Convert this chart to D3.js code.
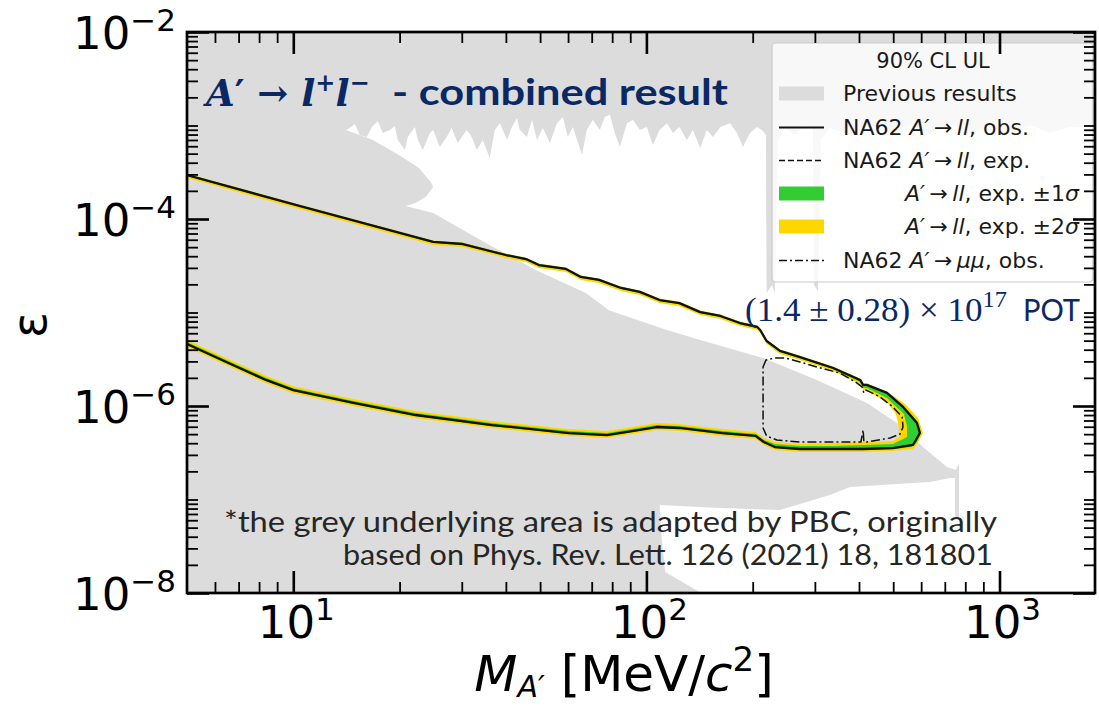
<!DOCTYPE html>
<html><head><meta charset="utf-8">
<script src="https://cdn.jsdelivr.net/npm/d3@7"></script>
<style>html,body{margin:0;padding:0;background:#fff}svg{display:block}</style>
</head><body>
<svg id="chart" width="1099" height="706"></svg>
<script>
// ---------------- DATA ----------------
const xMajorTicks = [10, 100, 1000];
const xTickExponents = ["1", "2", "3"];
const yMajorTicks = [1e-2, 1e-4, 1e-6, 1e-8];
const yTickExponents = ["\u22122", "\u22124", "\u22126", "\u22128"];

// NA62 A'->ll observed limit, upper branch (mass in MeV, epsilon)
const obsUpperMass = [5.0, 10.4, 24.9, 30.2, 40.0, 45.6, 49.6, 59.2, 65.2, 73.4, 84.7, 95.8, 109, 124, 142, 162, 184, 206, 210, 219, 239, 272, 338, 403, 411, 421, 480, 533, 584, 595];
const obsUpperEps  = [2.955e-4, 1.38e-4, 5.68e-5, 5.40e-5, 4.12e-5, 3.73e-5, 3.22e-5, 2.92e-5, 2.40e-5, 2.23e-5, 1.83e-5, 1.66e-5, 1.36e-5, 1.26e-5, 1.01e-5, 9.18e-6, 7.72e-6, 7.00e-6, 6.50e-6, 4.96e-6, 3.88e-6, 3.34e-6, 2.55e-6, 1.90e-6, 1.68e-6, 1.68e-6, 1.38e-6, 9.76e-7, 6.58e-7, 5.14e-7];
// lower branch
const obsLowerMass = [5.0, 6.74, 8.36, 10.0, 14.8, 22.2, 36.5, 60.3, 77.3, 87.5, 107, 124, 164, 204, 215, 231, 272, 338, 411, 499, 569, 595];
const obsLowerEps  = [4.60e-6, 2.74e-6, 1.90e-6, 1.48e-6, 1.08e-6, 8.01e-7, 6.26e-7, 5.14e-7, 4.89e-7, 5.27e-7, 5.96e-7, 5.82e-7, 5.14e-7, 4.78e-7, 4.12e-7, 3.64e-7, 3.47e-7, 3.47e-7, 3.47e-7, 3.55e-7, 3.83e-7, 5.14e-7];

// expected-limit bands: edges along the upper branch (left -> tip) and the lower branch (tip -> left)
const bandUpperMass = [5.0, 10.4, 24.9, 30.2, 40.0, 45.6, 49.6, 59.2, 65.2, 73.4, 84.7, 95.8, 109, 124, 142, 162, 184, 206, 210, 219, 239, 272, 338, 403, 411, 421, 480];
const bandLowerMass = [499, 411, 338, 272, 231, 215, 204, 164, 124, 107, 87.5, 77.3, 60.3, 36.5, 22.2, 14.8, 10.0, 8.36, 6.74, 5.0];
// +-2 sigma (yellow)
const yellowOuterUpper = [3.07e-4, 1.43e-4, 5.89e-5, 5.60e-5, 4.27e-5, 3.87e-5, 3.34e-5, 3.03e-5, 2.49e-5, 2.31e-5, 1.90e-5, 1.72e-5, 1.41e-5, 1.31e-5, 1.05e-5, 9.53e-6, 8.01e-6, 7.26e-6, 6.74e-6, 5.15e-6, 4.03e-6, 3.47e-6, 2.65e-6, 1.97e-6, 1.74e-6, 1.74e-6, 1.43e-6];
const yellowOuterTipMass = [540, 588, 607, 584, 569];
const yellowOuterTipEps  = [1.05e-6, 7.44e-7, 5.14e-7, 3.92e-7, 3.47e-7];
const yellowOuterLower = [3.30e-7, 3.22e-7, 3.22e-7, 3.22e-7, 3.38e-7, 3.83e-7, 4.44e-7, 4.77e-7, 5.41e-7, 5.54e-7, 4.90e-7, 4.54e-7, 4.77e-7, 5.81e-7, 7.44e-7, 1.00e-6, 1.37e-6, 1.76e-6, 2.55e-6, 4.27e-6];
const yellowInnerUpper = [2.74e-4, 1.28e-4, 5.28e-5, 5.02e-5, 3.83e-5, 3.46e-5, 2.99e-5, 2.71e-5, 2.23e-5, 2.07e-5, 1.70e-5, 1.54e-5, 1.26e-5, 1.17e-5, 9.38e-6, 8.53e-6, 7.17e-6, 6.50e-6, 6.04e-6, 4.61e-6, 3.60e-6, 3.10e-6, 2.37e-6, 1.72e-6, 1.49e-6, 1.45e-6, 1.11e-6];
const yellowInnerTipMass = [509, 519, 519];
const yellowInnerTipEps  = [8.21e-7, 5.96e-7, 4.66e-7];
const yellowInnerLower = [4.22e-7, 4.12e-7, 4.02e-7, 3.92e-7, 4.12e-7, 4.55e-7, 5.27e-7, 5.67e-7, 6.42e-7, 6.58e-7, 5.81e-7, 5.40e-7, 5.67e-7, 6.91e-7, 8.84e-7, 1.19e-6, 1.63e-6, 2.10e-6, 3.02e-6, 5.08e-6];
// +-1 sigma (green)
const greenOuterUpper = [3.03e-4, 1.41e-4, 5.82e-5, 5.53e-5, 4.22e-5, 3.82e-5, 3.30e-5, 2.99e-5, 2.46e-5, 2.29e-5, 1.88e-5, 1.70e-5, 1.39e-5, 1.29e-5, 1.04e-5, 9.41e-6, 7.91e-6, 7.17e-6, 6.66e-6, 5.08e-6, 3.98e-6, 3.42e-6, 2.61e-6, 1.95e-6, 1.72e-6, 1.72e-6, 1.41e-6];
const greenOuterTipMass = [536, 584, 599, 584, 562];
const greenOuterTipEps  = [1.00e-6, 6.91e-7, 5.14e-7, 4.12e-7, 3.64e-7];
const greenOuterLower = [3.46e-7, 3.39e-7, 3.39e-7, 3.39e-7, 3.55e-7, 4.02e-7, 4.66e-7, 5.02e-7, 5.68e-7, 5.82e-7, 5.14e-7, 4.77e-7, 5.02e-7, 6.11e-7, 7.82e-7, 1.05e-6, 1.44e-6, 1.85e-6, 2.67e-6, 4.49e-6];
const greenInnerUpper = [2.88e-4, 1.35e-4, 5.54e-5, 5.27e-5, 4.02e-5, 3.64e-5, 3.14e-5, 2.85e-5, 2.34e-5, 2.18e-5, 1.79e-5, 1.62e-5, 1.33e-5, 1.23e-5, 9.85e-6, 8.96e-6, 7.53e-6, 6.83e-6, 6.34e-6, 4.84e-6, 3.79e-6, 3.26e-6, 2.49e-6, 1.81e-6, 1.56e-6, 1.56e-6, 1.22e-6];
const greenInnerTipMass = [536, 547, 547];
const greenInnerTipEps  = [8.21e-7, 6.11e-7, 4.66e-7];
const greenInnerLower = [3.92e-7, 3.83e-7, 3.74e-7, 3.74e-7, 3.92e-7, 4.33e-7, 5.02e-7, 5.40e-7, 6.11e-7, 6.26e-7, 5.54e-7, 5.14e-7, 5.40e-7, 6.58e-7, 8.41e-7, 1.13e-6, 1.55e-6, 2.00e-6, 2.88e-6, 4.83e-6];

// NA62 A'->mumu observed (closed contour)
const mumuMass = [214, 218, 231, 247, 272, 304, 353, 395, 408, 413, 419, 459, 499, 530, 533, 523, 490, 421, 413, 411, 405, 338, 272, 234, 219, 214];
const mumuEps  = [2.61e-6, 3.10e-6, 3.26e-6, 3.26e-6, 2.96e-6, 2.61e-6, 2.25e-6, 1.76e-6, 1.60e-6, 1.38e-6, 1.48e-6, 1.25e-6, 9.76e-7, 7.63e-7, 5.96e-7, 5.02e-7, 4.55e-7, 4.12e-7, 4.12e-7, 5.54e-7, 4.12e-7, 4.12e-7, 4.12e-7, 4.33e-7, 4.78e-7, 5.82e-7];

// Previous results: boundary of the region NOT excluded (the white gap)
const gapMass = [14.45, 14.94, 15.43, 16.15, 16.69, 17.35, 17.93, 18.77, 19.39, 19.77, 20.70, 21.10, 22.09, 22.53, 23.27, 24.36, 24.9, 26.0, 27.2, 28.1, 29.2, 31.0, 32.0, 33.1, 34.4, 36.0, 37.2, 38.5, 40.3, 41.6, 43.0, 43.8, 45.9, 47.4, 49.0, 50.9, 53.3, 55.8, 58.0, 59.9, 61.9, 65.7, 67.8, 70.5, 73.8, 76.3, 78.8, 81.4, 84.1, 88.1, 91.6, 95.8, 100.3, 104.3, 109, 114.3, 118.9, 124, 130.2, 135.4, 142, 148.4, 154.3, 162, 172.4, 180.5, 187.7, 196.5, 205.6, 212.4, 218, 219, 226.8, 231, 235.8, 247, 263.5, 281.2, 296.3, 298.2, 306.1, 312.2, 331, 377, 430, 490, 558, 636, 724, 825, 940, 1071, 1220, 1390, 1584, 3000, 3000, 143, 143, 113, 110.6, 109, 162, 239, 331, 377, 523, 636, 724, 748, 748, 768, 768, 753, 710, 607, 533, 421, 304, 214, 142, 114.3, 82.5, 78.3, 67.4, 48.6, 35.1, 24.9, 20.8, 22.2, 23.7, 24.9, 24.5, 22.7, 19.9, 16.8, 14.1];
const gapEps  = [9.40e-4, 1.04e-3, 7.91e-4, 7.53e-4, 9.64e-4, 1.12e-3, 8.31e-4, 8.95e-4, 9.88e-4, 7.00e-4, 5.47e-4, 7.53e-4, 9.64e-4, 7.00e-4, 5.47e-4, 8.31e-4, 8.95e-4, 5.89e-4, 7.53e-4, 9.40e-4, 6.50e-4, 8.95e-4, 7.53e-4, 5.47e-4, 7.00e-4, 4.49e-4, 8.95e-4, 1.06e-3, 7.00e-4, 9.64e-4, 1.20e-3, 8.95e-4, 7.53e-4, 1.15e-3, 7.00e-4, 9.40e-4, 6.50e-4, 1.06e-3, 1.23e-3, 7.53e-4, 9.64e-4, 4.84e-4, 8.95e-4, 1.15e-3, 8.95e-4, 1.23e-3, 1.30e-3, 8.31e-4, 5.89e-4, 1.06e-3, 1.15e-3, 8.95e-4, 9.64e-4, 6.19e-4, 8.95e-4, 1.06e-3, 8.31e-4, 9.64e-4, 7.00e-4, 8.95e-4, 5.75e-4, 8.95e-4, 7.53e-4, 9.64e-4, 1.06e-3, 8.31e-4, 5.89e-4, 8.31e-4, 9.64e-4, 8.95e-4, 7.91e-4, 1.62e-5, 1.97e-5, 1.62e-5, 7.00e-4, 9.40e-4, 7.91e-4, 1.01e-3, 8.95e-4, 1.97e-5, 1.70e-5, 7.00e-4, 9.40e-4, 7.91e-4, 1.01e-3, 8.52e-4, 9.88e-4, 8.11e-4, 1.04e-3, 8.52e-4, 9.88e-4, 7.91e-4, 1.01e-3, 8.31e-4, 9.64e-4, 8.95e-4, 1e-9, 1e-9, 1.0e-8, 1.68e-8, 3.69e-8, 8.73e-8, 8.11e-8, 7.72e-8, 1.12e-7, 1.36e-7, 1.47e-7, 1.54e-7, 1.70e-7, 1.70e-7, 6.50e-8, 6.50e-8, 2.46e-7, 2.07e-7, 2.23e-7, 3.64e-7, 5.96e-7, 1.08e-6, 1.90e-6, 3.26e-6, 5.08e-6, 6.50e-6, 9.88e-6, 1.06e-5, 1.62e-5, 2.85e-5, 5.54e-5, 1.16e-4, 1.38e-4, 1.48e-4, 1.72e-4, 2.20e-4, 2.49e-4, 3.51e-4, 4.84e-4, 7.00e-4, 8.95e-4];

// ---------------- CHART ----------------
const navy = "#0a2864", grey = "#dcdcdc", green = "#32cd32", gold = "#ffd700";
const P = {l: 187, r: 1095, t: 32, b: 593};
const svg = d3.select("#chart");
const x = d3.scaleLog().domain([5, 1864]).range([P.l, P.r]);
const y = d3.scaleLog().domain([1e-8, 1e-2]).range([P.b, P.t]);
const pts = (ms, es) => ms.map((m, i) => [m, es[i]]);
const line = d3.line().x(d => x(d[0])).y(d => y(d[1]));

svg.append("defs").append("clipPath").attr("id", "clip")
  .append("rect").attr("x", P.l).attr("y", P.t).attr("width", P.r - P.l).attr("height", P.b - P.t);
const g = svg.append("g").attr("clip-path", "url(#clip)");

// grey previous results = plot region minus the gap
const frame = [[1, 1e-10], [1e5, 1e-10], [1e5, 1], [1, 1]];
g.append("path")
  .attr("d", line(frame) + "Z" + line(pts(gapMass, gapEps)) + "Z")
  .attr("fill-rule", "evenodd").attr("fill", grey);

// bands
function bandPoly(oU, oTm, oTe, oL, iU, iTm, iTe, iL) {
  const outer = pts(bandUpperMass, oU).concat(pts(oTm, oTe), pts(bandLowerMass, oL));
  const inner = pts(bandUpperMass, iU).concat(pts(iTm, iTe), pts(bandLowerMass, iL));
  return outer.concat(inner.reverse());
}
g.append("path").attr("fill", gold).attr("d", line(bandPoly(
  yellowOuterUpper, yellowOuterTipMass, yellowOuterTipEps, yellowOuterLower,
  yellowInnerUpper, yellowInnerTipMass, yellowInnerTipEps, yellowInnerLower)) + "Z");
g.append("path").attr("fill", green).attr("d", line(bandPoly(
  greenOuterUpper, greenOuterTipMass, greenOuterTipEps, greenOuterLower,
  greenInnerUpper, greenInnerTipMass, greenInnerTipEps, greenInnerLower)) + "Z");

// observed
const obsPts = pts(obsUpperMass, obsUpperEps).concat(pts(obsLowerMass, obsLowerEps).reverse().slice(1));
g.append("path").attr("d", line(obsPts)).attr("fill", "none").attr("stroke", "#111")
  .attr("stroke-width", 2.3).attr("stroke-linejoin", "round");
// mumu
g.append("path").attr("d", line(pts(mumuMass, mumuEps)) + "Z").attr("fill", "none").attr("stroke", "#111")
  .attr("stroke-width", 1.5).attr("stroke-dasharray", "9,3,2,3").attr("stroke-linejoin", "round");

// ---------- annotations ----------
const title = svg.append("text").attr("x", 206).attr("y", 106).attr("fill", navy)
  .attr("font-family", "DejaVu Serif").attr("font-weight", "bold").attr("font-size", 37);
title.append("tspan").attr("font-style", "italic").text("A");
title.append("tspan").text("\u2032 \u2192 ");
title.append("tspan").attr("font-style", "italic").text("l");
title.append("tspan").attr("font-size", 24).attr("dy", -15).text("+");
title.append("tspan").attr("font-style", "italic").attr("dy", 15).text("l");
title.append("tspan").attr("font-size", 24).attr("dy", -15).text("\u2212");
svg.append("text").attr("x", 392).attr("y", 105).attr("fill", navy)
  .attr("font-family", "Lato").attr("font-weight", "bold").attr("font-size", 37)
  .attr("textLength", 336).attr("lengthAdjust", "spacingAndGlyphs").text("- combined result");

const pot = svg.append("text").attr("x", 745).attr("y", 321).attr("fill", navy)
  .attr("font-family", "Liberation Serif").attr("font-size", 33)
  .attr("textLength", 262).attr("lengthAdjust", "spacingAndGlyphs");
pot.append("tspan").text("(1.4 \u00b1 0.28) \u00d7 10");
pot.append("tspan").attr("font-size", 23).attr("dy", -14).text("17");
svg.append("text").attr("x", 1023).attr("y", 321).attr("fill", navy)
  .attr("font-family", "Lato").attr("font-size", 30)
  .attr("textLength", 57).attr("lengthAdjust", "spacingAndGlyphs").text("POT");

svg.append("text").attr("x", 224).attr("y", 532).attr("fill", "#262626")
  .attr("font-family", "Lato").attr("font-size", 28)
  .attr("textLength", 773).attr("lengthAdjust", "spacingAndGlyphs")
  .text("*the grey underlying area is adapted by PBC, originally");
svg.append("text").attr("x", 343).attr("y", 565).attr("fill", "#262626")
  .attr("font-family", "Lato").attr("font-size", 28)
  .attr("textLength", 650).attr("lengthAdjust", "spacingAndGlyphs")
  .text("based on Phys. Rev. Lett. 126 (2021) 18, 181801");

// ---------- legend ----------
const L = svg.append("g").attr("font-family", "DejaVu Sans").attr("font-size", 22).attr("fill", "#1a1a1a");
L.append("rect").attr("x", 772).attr("y", 43).attr("width", 321).attr("height", 239).attr("rx", 4)
  .attr("fill", "#fff").attr("fill-opacity", 0.8).attr("stroke", "#cccccc").attr("stroke-width", 1.2);
L.append("text").attr("x", 933).attr("y", 68).attr("text-anchor", "middle").attr("font-size", 21).text("90% CL UL");
function rich(sel, parts) {
  parts.forEach(p => { const t = sel.append("tspan").text(p[0]); if (p[1]) t.attr("font-style", "italic"); });
}
const arrow = "\u2009\u2192\u2009";
const rows = [
  {yb: 101, kind: "patch", color: grey, x: 843, parts: [["Previous results"]]},
  {yb: 135, kind: "line", dash: null, x: 843, parts: [["NA62 "], ["A\u2032", 1], [arrow], ["ll", 1], [", obs."]]},
  {yb: 168, kind: "line", dash: "6,3", x: 843, parts: [["NA62 "], ["A\u2032", 1], [arrow], ["ll", 1], [", exp."]]},
  {yb: 201, kind: "patch", color: green, x: 905, parts: [["A\u2032", 1], [arrow], ["ll", 1], [", exp. \u00b11"], ["\u03c3", 1]]},
  {yb: 234, kind: "patch", color: gold, x: 905, parts: [["A\u2032", 1], [arrow], ["ll", 1], [", exp. \u00b12"], ["\u03c3", 1]]},
  {yb: 268, kind: "line", dash: "8,3,2,3", x: 843, parts: [["NA62 "], ["A\u2032", 1], [arrow], ["\u03bc\u03bc", 1], [", obs."]]}
];
rows.forEach(r => {
  const cy = r.yb - 7.5;
  if (r.kind === "patch") {
    L.append("rect").attr("x", 779).attr("y", cy - 7).attr("width", 45).attr("height", 14).attr("fill", r.color);
  } else {
    const ln = L.append("line").attr("x1", 779).attr("x2", 824).attr("y1", cy).attr("y2", cy)
      .attr("stroke", "#111").attr("stroke-width", 2);
    if (r.dash) ln.attr("stroke-dasharray", r.dash).attr("stroke-width", 1.6);
  }
  rich(L.append("text").attr("x", r.x).attr("y", r.yb), r.parts);
});

// ---------- axes ----------
const xMinor = [], yMinor = [];
for (let d = 1; d <= 1000; d *= 10) for (let k = 1; k <= 9; k++) { const v = k * d; if (v > 5 && v < 1864 && xMajorTicks.indexOf(v) < 0) xMinor.push(v); }
for (let e = -8; e < -2; e++) for (let k = 1; k <= 9; k++) { const v = k * Math.pow(10, e); if (yMajorTicks.every(t => Math.abs(t - v) / v > 1e-6)) yMinor.push(v); }

function styleAxis(sel, w) { sel.select(".domain").remove(); sel.selectAll("line").attr("stroke", "#000").attr("stroke-width", w); sel.selectAll("text").remove(); }
const axes = svg.append("g");
[[d3.axisBottom, P.b], [d3.axisTop, P.t]].forEach(([f, ty]) => {
  axes.append("g").attr("transform", `translate(0,${ty})`).call(f(x).tickValues(xMajorTicks).tickSize(-22)).call(s => styleAxis(s, 2.6));
  axes.append("g").attr("transform", `translate(0,${ty})`).call(f(x).tickValues(xMinor).tickSize(-11)).call(s => styleAxis(s, 1.8));
});
[[d3.axisLeft, P.l], [d3.axisRight, P.r]].forEach(([f, tx]) => {
  axes.append("g").attr("transform", `translate(${tx},0)`).call(f(y).tickValues(yMajorTicks).tickSize(-22)).call(s => styleAxis(s, 2.6));
  axes.append("g").attr("transform", `translate(${tx},0)`).call(f(y).tickValues(yMinor).tickSize(-11)).call(s => styleAxis(s, 1.8));
});
axes.append("rect").attr("x", P.l).attr("y", P.t).attr("width", P.r - P.l).attr("height", P.b - P.t)
  .attr("fill", "none").attr("stroke", "#000").attr("stroke-width", 2.7);

// tick labels
const labs = svg.append("g").attr("font-family", "DejaVu Sans").attr("fill", "#000");
yMajorTicks.forEach((v, i) => {
  const t = labs.append("text").attr("x", 176).attr("y", y(v) + 17).attr("text-anchor", "end").attr("font-size", 45);
  t.append("tspan").text("10");
  t.append("tspan").attr("font-size", 31).attr("dy", -18).text(yTickExponents[i]);
});
xMajorTicks.forEach((v, i) => {
  const t = labs.append("text").attr("x", x(v) + 3).attr("y", 638).attr("text-anchor", "middle").attr("font-size", 45);
  t.append("tspan").text("10");
  t.append("tspan").attr("font-size", 31).attr("dy", -18).text(xTickExponents[i]);
});
// axis titles
const xt = labs.append("text").attr("x", 624).attr("y", 691).attr("text-anchor", "middle").attr("font-size", 50);
xt.append("tspan").attr("font-style", "italic").text("M");
xt.append("tspan").attr("font-style", "italic").attr("font-size", 30).attr("dy", 6).text("A\u2032");
xt.append("tspan").attr("dy", -6).text(" [MeV/");
xt.append("tspan").attr("font-style", "italic").text("c");
xt.append("tspan").attr("font-size", 34).attr("dy", -20).text("2");
xt.append("tspan").attr("dy", 20).text("]");
labs.append("text").attr("transform", "translate(46,325) rotate(-90)").attr("text-anchor", "middle")
  .attr("font-size", 48).text("\u03b5");
</script>
</body></html>
